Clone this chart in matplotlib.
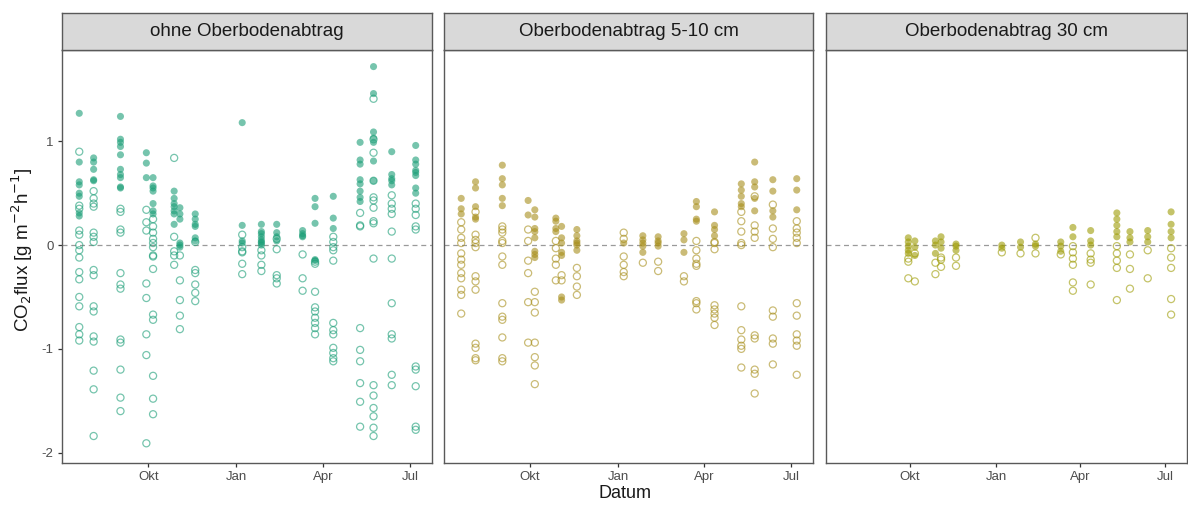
import matplotlib
matplotlib.use("Agg")
import matplotlib.pyplot as plt
import matplotlib.dates as mdates
import numpy as np
import datetime as dt

plt.rcParams['font.family'] = ['Liberation Sans', 'DejaVu Sans']

# ---------------- data ----------------
dates = ['2018-07-21', '2018-08-05', '2018-09-02', '2018-09-29', '2018-10-06', '2018-10-28',
         '2018-11-03', '2018-11-19', '2019-01-07', '2019-01-27', '2019-02-12', '2019-03-11',
         '2019-03-24', '2019-04-12', '2019-05-10', '2019-05-24', '2019-06-12', '2019-07-07']

facet_titles = ['ohne Oberbodenabtrag', 'Oberbodenabtrag 5-10 cm', 'Oberbodenabtrag 30 cm']
facet_colors = ['#1b9e77', '#a88f1c', '#9e9c06']

# panel 1 (ohne Oberbodenabtrag)
p1_filled = [
    [1.27, 0.80, 0.61, 0.58, 0.50, 0.47, 0.31, 0.28],
    [0.84, 0.80, 0.73, 0.63, 0.62],
    [1.24, 1.02, 0.99, 0.95, 0.87, 0.73, 0.68, 0.65, 0.56, 0.55],
    [0.89, 0.79, 0.65],
    [0.65, 0.57, 0.55, 0.52, 0.40, 0.33, 0.30],
    [0.52, 0.45, 0.40, 0.37, 0.33, 0.30, 0.20],
    [0.36, 0.30, 0.25, 0.02, 0.00, -0.02],
    [0.30, 0.25, 0.20, 0.18, 0.07, 0.04],
    [1.18, 0.19, 0.04, 0.02],
    [0.20, 0.13, 0.11, 0.08, 0.05, 0.03, 0.02, 0.00],
    [0.20, 0.12, 0.08, 0.04],
    [0.14, 0.11, 0.09, 0.08],
    [0.45, 0.37, 0.21, -0.14, -0.15],
    [0.47, 0.26, 0.16],
    [0.99, 0.82, 0.78, 0.63, 0.59, 0.52, 0.46, 0.42],
    [1.72, 1.46, 1.09, 1.03, 0.99, 0.81, 0.62],
    [0.90, 0.68, 0.64, 0.62, 0.58],
    [0.96, 0.82, 0.78, 0.72, 0.70, 0.67, 0.55, 0.50],
]
p1_open = [
    [0.90, 0.38, 0.35, 0.14, 0.10, 0.00, -0.05, -0.12, -0.26, -0.33, -0.50, -0.59, -0.79, -0.86, -0.92],
    [0.52, 0.45, 0.40, 0.37, 0.12, 0.08, 0.03, -0.24, -0.29, -0.59, -0.64, -0.88, -0.93, -1.21, -1.39, -1.84],
    [0.35, 0.32, 0.15, 0.12, -0.27, -0.38, -0.42, -0.91, -0.94, -1.20, -1.47, -1.60],
    [0.34, 0.22, 0.14, -0.37, -0.51, -0.86, -1.06, -1.91],
    [0.25, 0.18, 0.12, 0.06, 0.02, -0.02, -0.10, -0.11, -0.23, -0.67, -0.72, -1.26, -1.48, -1.63],
    [0.84, 0.08, -0.06, -0.10, -0.19],
    [-0.10, -0.34, -0.53, -0.68, -0.81],
    [0.03, -0.24, -0.27, -0.38, -0.46, -0.54],
    [0.10, -0.02, -0.06, -0.07, -0.18, -0.28],
    [-0.05, -0.10, -0.19, -0.25],
    [0.06, -0.04, -0.29, -0.32, -0.37],
    [-0.09, -0.32, -0.44],
    [-0.16, -0.18, -0.45, -0.60, -0.64, -0.70, -0.75, -0.80, -0.86],
    [0.08, 0.03, -0.02, -0.05, -0.15, -0.75, -0.82, -0.86, -0.99, -1.04, -1.09, -1.12],
    [0.31, 0.19, 0.18, -0.80, -1.01, -1.12, -1.33, -1.51, -1.75],
    [1.41, 1.02, 0.89, 0.62, 0.46, 0.43, 0.36, 0.23, 0.21, -0.13, -1.35, -1.45, -1.57, -1.65, -1.76, -1.84],
    [0.48, 0.40, 0.35, 0.30, 0.13, -0.13, -0.56, -0.86, -0.90, -1.25, -1.35],
    [0.40, 0.35, 0.29, 0.18, 0.15, -1.17, -1.20, -1.36, -1.75, -1.78],
]

# panel 2 (Oberbodenabtrag 5-10 cm)
p2_filled = [
    [0.45, 0.35, 0.30],
    [0.61, 0.55, 0.37, 0.27, 0.25],
    [0.77, 0.64, 0.58, 0.45, 0.38],
    [0.43, 0.29],
    [0.34, 0.27, 0.16, 0.13, 0.07, -0.06, -0.09, -0.12],
    [0.26, 0.23, 0.16, 0.13],
    [0.18, 0.07, 0.02, -0.07, -0.10, -0.50, -0.53],
    [0.15, 0.09, 0.04, 0.02, 0.00, -0.05],
    [0.02],
    [0.09, 0.05, 0.02, -0.01, -0.07],
    [0.08, 0.04, 0.02, -0.01],
    [0.11, 0.05, -0.07],
    [0.42, 0.37, 0.25, 0.23],
    [0.32, 0.19, 0.15, 0.09],
    [0.59, 0.53, 0.47, 0.40, 0.37],
    [0.80, 0.61, 0.56, 0.45, 0.33],
    [0.63, 0.52, 0.33, 0.27],
    [0.64, 0.53, 0.34],
]
p2_open = [
    [0.22, 0.15, 0.07, 0.02, -0.08, -0.14, -0.19, -0.27, -0.32, -0.43, -0.48, -0.66],
    [0.32, 0.10, 0.05, 0.02, -0.02, -0.30, -0.35, -0.43, -0.95, -0.99, -1.09, -1.11],
    [0.18, 0.15, 0.12, 0.04, 0.02, -0.11, -0.19, -0.56, -0.69, -0.72, -0.89, -1.09, -1.12],
    [0.15, 0.04, -0.15, -0.27, -0.55, -0.94],
    [-0.45, -0.55, -0.65, -0.94, -1.08, -1.16, -1.34],
    [0.04, -0.03, -0.13, -0.19, -0.34],
    [-0.29, -0.34],
    [-0.22, -0.30, -0.40, -0.48],
    [0.12, 0.06, -0.11, -0.19, -0.26, -0.30],
    [-0.17],
    [-0.16, -0.25],
    [-0.30, -0.35],
    [0.04, -0.05, -0.13, -0.18, -0.20, -0.54, -0.56, -0.62],
    [0.03, 0.02, -0.04, -0.58, -0.62, -0.66, -0.70, -0.77],
    [0.32, 0.23, 0.13, 0.02, 0.00, -0.59, -0.82, -0.91, -0.97, -1.00, -1.18],
    [0.47, 0.19, 0.13, 0.07, -0.87, -0.90, -1.20, -1.24, -1.43],
    [0.39, 0.16, 0.06, -0.02, -0.63, -0.69, -0.90, -0.95, -1.15],
    [0.23, 0.16, 0.12, 0.07, 0.02, -0.56, -0.68, -0.86, -0.92, -0.97, -1.25],
]

# panel 3 (Oberbodenabtrag 30 cm) -- no measurements before late September
p3_filled = [
    None, None, None,
    [0.07, 0.03, -0.01, -0.05, -0.08],
    [0.04, -0.02, -0.10],
    [0.04, 0.00, -0.08],
    [0.08, 0.03, -0.03],
    [0.01, -0.01, -0.05],
    [0.00, -0.03],
    [0.03, -0.02],
    [0.01, -0.01],
    [0.03, -0.01, -0.06],
    [0.17, 0.08],
    [0.14, 0.04, 0.00],
    [0.31, 0.25, 0.19, 0.13, 0.08],
    [0.13, 0.07, 0.03],
    [0.14, 0.08, 0.03],
    [0.32, 0.20, 0.13, 0.07],
]
p3_open = [
    None, None, None,
    [-0.13, -0.16, -0.32],
    [-0.08, -0.35],
    [-0.17, -0.28],
    [-0.12, -0.14, -0.21],
    [-0.12, -0.20],
    [-0.07],
    [-0.08],
    [0.07, -0.08],
    [-0.09],
    [-0.01, -0.07, -0.13, -0.19, -0.36, -0.44],
    [-0.08, -0.14, -0.17, -0.38],
    [-0.01, -0.08, -0.15, -0.22, -0.53],
    [-0.09, -0.23, -0.42],
    [-0.05, -0.32],
    [-0.03, -0.12, -0.22, -0.52, -0.67],
]

y_ticks = [-2, -1, 0, 1]
x_tick_dates = ['2018-10-01', '2019-01-01', '2019-04-01', '2019-07-01']
x_tick_labels = ['Okt', 'Jan', 'Apr', 'Jul']

# ---------------- drawing ----------------
W, H = 1188, 508
fig = plt.figure(figsize=(W / 100, H / 100), dpi=100)

panel_px = [(62, 432), (444, 813), (826, 1187)]
top_px, bot_px, strip_top_px = 50, 463, 13

date_nums = mdates.datestr2num(dates)
xlim = (mdates.date2num(dt.datetime(2018, 7, 3)), mdates.date2num(dt.datetime(2019, 7, 24)))
border = '#595959'

def flatten(cols):
    xs, ys = [], []
    for d, vals in zip(date_nums, cols):
        if vals is None:
            continue
        xs.extend([d] * len(vals))
        ys.extend(vals)
    return np.array(xs), np.array(ys)

panels = [(p1_filled, p1_open), (p2_filled, p2_open), (p3_filled, p3_open)]

for i, ((l, r), (filled, opened)) in enumerate(zip(panel_px, panels)):
    ax = fig.add_axes([l / W, (H - bot_px) / H, (r - l) / W, (bot_px - top_px) / H])
    col = facet_colors[i]
    ax.axhline(0, color='#9a9a9a', lw=0.9, ls=(0, (4, 3)), zorder=1)
    xo, yo = flatten(opened)
    ax.scatter(xo, yo, s=26, facecolors='none', edgecolors=col, linewidths=0.9, alpha=0.6, zorder=2)
    xf, yf = flatten(filled)
    ax.scatter(xf, yf, s=26, color=col, edgecolors='none', alpha=0.6, zorder=3)
    ax.set_xlim(*xlim)
    ax.set_ylim(-2.1, 1.88)
    ax.set_xticks(mdates.datestr2num(x_tick_dates))
    ax.set_xticklabels(x_tick_labels)
    ax.set_yticks(y_ticks)
    if i == 0:
        ax.set_yticklabels([str(v) for v in y_ticks])
    else:
        ax.tick_params(axis='y', left=False, labelleft=False)
    ax.tick_params(axis='both', colors='#333333', labelcolor='#4d4d4d', labelsize=9.5,
                   length=3, width=0.9, pad=3)
    for s in ax.spines.values():
        s.set_color(border)
        s.set_linewidth(1.0)
    # strip
    sax = fig.add_axes([l / W, (H - top_px) / H, (r - l) / W, (top_px - strip_top_px) / H])
    sax.set_facecolor('#d9d9d9')
    sax.set_xticks([])
    sax.set_yticks([])
    for s in sax.spines.values():
        s.set_color(border)
        s.set_linewidth(1.0)
    sax.text(0.5, 0.5, facet_titles[i], ha='center', va='center', fontsize=13.5,
             color='#1a1a1a', transform=sax.transAxes)

fig.text(22 / W, (H - 250) / H, r'CO$_2$flux [g m$^{-2}$h$^{-1}$]', rotation=90,
         ha='center', va='center', fontsize=13.5, color='#1a1a1a')
fig.text(625 / W, (H - 493) / H, 'Datum', ha='center', va='center', fontsize=13, color='#1a1a1a')

fig.savefig('out.png', dpi=100, facecolor='white')
